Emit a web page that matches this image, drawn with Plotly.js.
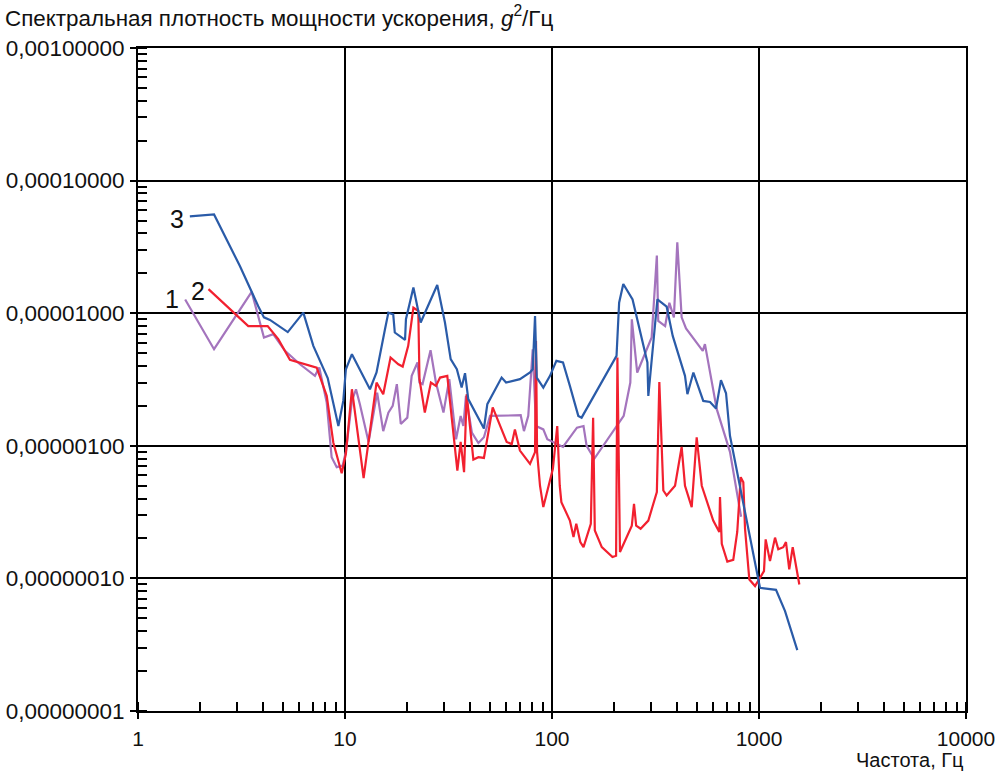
<!DOCTYPE html>
<html>
<head>
<meta charset="utf-8">
<script src="https://cdn.plot.ly/plotly-3.0.1.min.js"></script>
<style>
  html, body { margin: 0; padding: 0; background: #fff; }
  #chart { width: 1003px; height: 772px; }
</style>
</head>
<body>
<div id="chart"></div>
<script>
// Acceleration power spectral density, g^2/Hz, three measurement series

// Series 1 (purple)
const freq1 = [1.69,2.33,3.54,4.06,4.50,5.13,6.06,7.16,7.51,8.16,
  8.62,9.12,9.75,10.1,10.8,11.3,11.8,13.0,14.3,15.3,
  16.2,17.0,17.8,18.6,20.0,21.0,22.4,22.9,23.7,25.9,
  27.5,29.9,31.9,34.4,36.2,37.3,38.4,41.0,44.1,46.9,
  50.2,60.4,70.6,73.2,76.8,80.7,83.7,90.8,94.9,113,
  132,142,147,160,191,222,239,243,258,303,
  321,326,352,369,388,403,423,444,535,548,
  625,724,819];
const psd1 = [1.27e-5,5.35e-6,1.45e-5,6.56e-6,6.95e-6,5.2e-6,4.12e-6,3.37e-6,3.89e-6,2.12e-6,
  8.2e-7,6.9e-7,7.1e-7,9.06e-7,2.18e-6,2.67e-6,2.06e-6,1.07e-6,2.52e-6,1.29e-6,
  1.78e-6,2.0e-6,2.92e-6,1.46e-6,1.63e-6,3.37e-6,4.25e-6,3.0e-6,2.92e-6,5.26e-6,
  3.0e-6,1.78e-6,3.18e-6,1.12e-6,1.68e-6,1.41e-6,2.38e-6,1.26e-6,1.05e-6,1.16e-6,
  1.68e-6,1.68e-6,1.70e-6,1.29e-6,1.68e-6,5.35e-6,1.41e-6,1.33e-6,1.12e-6,9.8e-7,
  1.37e-6,1.41e-6,1.0e-6,7.98e-7,1.19e-6,1.68e-6,3.0e-6,9.0e-6,3.57e-6,6.56e-6,
  2.72e-5,8.75e-6,8.0e-6,1.2e-5,9.3e-6,3.43e-5,9.3e-6,7.67e-6,5.2e-6,5.84e-6,
  1.89e-6,9.0e-7,2.92e-7];

// Series 2 (red)
const freq2 = [2.19,3.41,4.23,4.76,5.42,7.30,8.16,8.78,9.64,10.1,
  10.8,12.3,14.2,15.3,16.6,18.1,19.0,20.2,21.4,22.6,
  22.9,24.3,26.0,27.5,28.8,31.2,32.2,34.9,36.2,37.6,
  38.7,41.7,44.1,46.9,51.7,60.4,63.9,66.2,70.0,78.3,
  82.8,83.7,84.7,87.5,90.8,101,106,109,111,122,
  127,131,137,142,154,158,161,174,196,204,
  207,213,243,249,255,268,292,321,330,345,
  358,393,423,439,473,500,529,601,643,648,
  661,703,751,785,816,840,856,898,957,1003,
  1057,1077,1130,1195,1239,1310,1350,1400,1455,1566];
const psd2 = [1.52e-5,8.0e-6,8.0e-6,6.37e-6,4.45e-6,3.89e-6,2.38e-6,1.06e-6,6.2e-7,8.7e-7,
  2.67e-6,5.7e-7,3.0e-6,2.45e-6,4.63e-6,4.12e-6,3.96e-6,5.67e-6,1.10e-5,1.04e-5,
  3.18e-6,1.78e-6,3.0e-6,2.83e-6,3.27e-6,3.37e-6,2.12e-6,6.5e-7,1.07e-6,6.33e-7,
  2.45e-6,7.88e-7,8.2e-7,8.1e-7,1.95e-6,1.07e-6,1.03e-6,1.33e-6,9.2e-7,7.3e-7,
  8.96e-7,6.18e-6,9.0e-7,5.0e-7,3.45e-7,6.7e-7,1.41e-6,5.0e-7,3.76e-7,2.73e-7,
  2.05e-7,2.58e-7,1.88e-7,1.72e-7,2.58e-7,1.63e-6,2.30e-7,1.72e-7,1.45e-7,1.48e-7,
  4.63e-6,1.58e-7,2.5e-7,3.65e-7,2.5e-7,2.37e-7,2.73e-7,4.48e-7,3.03e-6,4.6e-7,
  4.22e-7,5.0e-7,9.8e-7,5.0e-7,3.45e-7,1.16e-6,5.0e-7,2.73e-7,2.24e-7,4.1e-7,
  1.82e-7,1.34e-7,1.38e-7,2.24e-7,5.8e-7,5.3e-7,2.37e-7,9.8e-8,8.75e-8,9.8e-8,
  1.135e-7,1.97e-7,1.35e-7,2.03e-7,1.66e-7,1.72e-7,1.88e-7,1.17e-7,1.72e-7,9.0e-8];

// Series 3 (blue)
const freq3 = [1.78,2.33,3.11,3.54,3.81,4.06,4.34,5.29,6.29,7.03,
  8.25,9.29,9.81,10.1,10.8,13.2,14.2,15.6,16.2,17.1,
  17.4,19.5,19.7,21.4,23.2,27.9,30.4,32.4,34.7,36.6,
  38.0,39.4,46.9,48.7,57.1,60.0,70.0,78.3,80.7,82.8,
  84.4,90.8,97.8,105,113,122,134,139,205,211,
  221,245,289,292,323,358,383,439,451,482,
  538,580,620,655,693,724,1011,1208,1336,1531];
const psd3 = [5.38e-5,5.55e-5,2.26e-5,1.43e-5,1.13e-5,9.3e-6,8.9e-6,7.2e-6,1.01e-5,5.67e-6,
  3.24e-6,1.41e-6,2.18e-6,3.78e-6,4.91e-6,2.67e-6,3.57e-6,7.57e-6,1.01e-5,9.8e-6,
  7.15e-6,6.29e-6,9.0e-6,1.56e-5,8.5e-6,1.63e-5,8.5e-6,4.50e-6,3.78e-6,2.75e-6,
  3.53e-6,2.25e-6,1.35e-6,2.06e-6,3.27e-6,3.0e-6,3.18e-6,3.57e-6,3.78e-6,9.5e-6,
  3.27e-6,2.75e-6,3.37e-6,4.37e-6,4.25e-6,2.83e-6,1.68e-6,1.63e-6,4.77e-6,1.20e-5,
  1.66e-5,1.27e-5,4.25e-6,2.38e-6,1.27e-5,1.12e-5,6.74e-6,3.37e-6,2.45e-6,3.57e-6,
  2.18e-6,2.14e-6,1.91e-6,3.13e-6,2.49e-6,1.19e-6,8.5e-8,8.2e-8,5.67e-8,2.88e-8];

// Curve number labels placed next to the start of each curve
const curveLabels = ['1', '2', '3'];

const FONT = 'Liberation Sans, Arial, sans-serif';
const INK = '#111';

const traces = [
  { x: freq1, y: psd1, name: curveLabels[0], mode: 'lines', line: { color: '#a474bd', width: 2.2 } },
  { x: freq2, y: psd2, name: curveLabels[1], mode: 'lines', line: { color: '#f2202f', width: 2.2 } },
  { x: freq3, y: psd3, name: curveLabels[2], mode: 'lines', line: { color: '#2a5ba8', width: 2.2 } }
];

const axisCommon = {
  type: 'log',
  dtick: 1,
  showgrid: true,
  gridcolor: '#000',
  gridwidth: 2,
  showline: true,
  linecolor: '#000',
  linewidth: 2,
  mirror: true,
  zeroline: false,
  ticks: 'outside',
  ticklen: 6,
  tickwidth: 2,
  tickcolor: '#000',
  minor: { dtick: 'D1', ticks: 'inside', ticklen: 9, tickwidth: 2, tickcolor: '#000', showgrid: false }
};

const layout = {
  width: 1003,
  height: 772,
  margin: { l: 138, r: 37, t: 48, b: 61 },
  paper_bgcolor: '#fff',
  plot_bgcolor: '#fff',
  showlegend: false,
  separators: ',.',
  font: { family: FONT, size: 20, color: INK },
  title: {
    text: 'Спектральная плотность мощности ускорения, <i>g</i><sup>2</sup>/Гц',
    font: { family: FONT, size: 22.4, color: INK },
    xref: 'container', yref: 'container',
    x: 0.005, xanchor: 'left',
    y: 0.977, yanchor: 'middle'
  },
  xaxis: Object.assign({}, axisCommon, {
    range: [0, 4],
    tickformat: 'd',
    tickfont: { family: FONT, size: 21, color: INK },
    ticklabelstandoff: 2
  }),
  yaxis: Object.assign({}, axisCommon, {
    range: [-8, -3],
    tickformat: '.8f',
    tickfont: { family: FONT, size: 22.5, color: INK },
    ticklabelstandoff: 1
  }),
  annotations: [
    { text: 'Частота, Гц', xref: 'paper', yref: 'paper', x: 1, y: 0,
      xanchor: 'right', yanchor: 'middle', yshift: -49, showarrow: false,
      font: { family: FONT, size: 20, color: INK } },
    { text: curveLabels[0], x: 0.164, y: -4.893, xref: 'x', yref: 'y', showarrow: false,
      font: { family: FONT, size: 25, color: INK } },
    { text: curveLabels[1], x: 0.290, y: -4.833, xref: 'x', yref: 'y', showarrow: false,
      font: { family: FONT, size: 25, color: INK } },
    { text: curveLabels[2], x: 0.188, y: -4.29, xref: 'x', yref: 'y', showarrow: false,
      font: { family: FONT, size: 25, color: INK } }
  ]
};

Plotly.newPlot('chart', traces, layout, { staticPlot: true, displayModeBar: false });
</script>
</body>
</html>
